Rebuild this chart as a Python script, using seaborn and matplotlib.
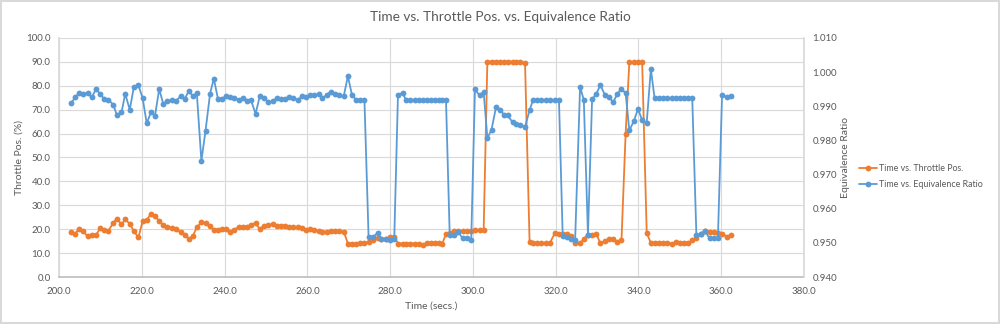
import matplotlib
matplotlib.use("Agg")
import matplotlib.pyplot as plt
import seaborn as sns
import pandas as pd
from matplotlib.lines import Line2D

time_s = [202.9, 203.9, 204.8, 205.7, 206.9, 207.9, 209.0, 209.9, 210.9, 211.9,
          213.1, 214.0, 215.1, 216.0, 217.1, 218.1, 219.2, 220.2, 221.2, 222.2,
          223.2, 224.2, 225.2, 226.1, 227.2, 228.2, 229.4, 230.4, 231.4, 232.3,
          233.3, 234.4, 235.4, 236.5, 237.4, 238.4, 239.4, 240.4, 241.4, 242.3,
          243.4, 244.4, 245.4, 246.4, 247.5, 248.5, 249.5, 250.6, 251.6, 252.7,
          253.6, 254.7, 255.6, 256.6, 257.7, 258.6, 259.6, 260.6, 261.6, 262.7,
          263.6, 264.7, 265.6, 266.7, 267.7, 268.8, 269.8, 270.8, 271.8, 272.8,
          273.8, 274.8, 275.9, 277.0, 277.9, 279.0, 279.9, 281.0, 281.9, 283.0,
          283.9, 284.9, 285.9, 286.9, 287.9, 288.9, 289.9, 290.9, 291.9, 292.6,
          293.5, 294.4, 295.5, 296.5, 297.5, 298.5, 299.6, 300.5, 301.6, 302.6,
          303.5, 304.5, 305.6, 306.6, 307.5, 308.4, 309.6, 310.5, 311.5, 312.6,
          313.7, 314.5, 315.5, 316.5, 317.6, 318.6, 319.8, 320.8, 321.7, 322.7,
          323.7, 324.7, 325.9, 326.8, 327.8, 328.8, 329.8, 330.8, 331.9, 332.9,
          333.9, 334.9, 335.9, 336.9, 337.8, 338.9, 339.9, 340.9, 342.0, 343.0,
          343.9, 345.0, 346.0, 347.0, 348.0, 349.0, 350.0, 351.0, 352.0, 353.0,
          354.0, 355.2, 356.1, 357.2, 358.2, 359.2, 360.2, 361.4, 362.4]

throttle_pos = [18.7, 18.2, 20.1, 19.4, 17.0, 17.6, 17.6, 20.4, 19.7, 19.2,
                22.7, 24.4, 22.0, 24.1, 22.3, 19.1, 16.6, 23.4, 23.8, 26.5,
                25.5, 23.4, 21.6, 21.1, 20.6, 20.2, 18.7, 17.6, 16.0, 17.0,
                20.8, 22.9, 22.6, 21.5, 19.8, 19.8, 19.9, 20.2, 19.0, 19.8,
                20.9, 20.9, 21.1, 21.9, 22.6, 19.9, 21.5, 21.8, 22.0, 21.5,
                21.5, 21.3, 20.8, 21.1, 20.8, 20.5, 19.8, 20.1, 19.8, 19.1,
                19.0, 19.0, 19.4, 19.4, 19.1, 19.0, 14.0, 14.0, 14.0, 14.1,
                14.2, 14.6, 15.6, 16.5, 16.0, 15.8, 16.6, 16.9, 14.0, 14.0,
                14.0, 14.0, 14.0, 13.9, 13.5, 14.3, 14.2, 14.2, 14.3, 14.0,
                18.0, 18.4, 19.1, 19.1, 19.1, 19.4, 19.4, 19.5, 19.5, 19.5,
                90.1, 90.1, 90.1, 90.0, 90.0, 90.1, 90.1, 90.1, 90.1, 89.5,
                14.5, 14.2, 14.2, 14.2, 14.2, 14.2, 18.4, 17.9, 18.0, 18.0,
                17.0, 14.1, 14.1, 16.0, 17.7, 17.6, 18.1, 14.1, 15.1, 15.9,
                15.9, 14.6, 15.3, 59.8, 89.8, 89.8, 89.8, 89.8, 18.4, 14.2,
                14.2, 14.2, 14.2, 14.2, 14.0, 14.5, 14.2, 14.2, 14.2, 15.3,
                16.2, 18.0, 19.4, 19.0, 18.7, 18.4, 18.0, 16.9, 17.6]

equivalence_ratio = [0.9908, 0.9926, 0.9938, 0.9937, 0.9938, 0.9926, 0.9951, 0.9936, 0.9922, 0.9919,
                     0.9905, 0.9873, 0.9882, 0.9936, 0.9890, 0.9957, 0.9961, 0.9924, 0.9850, 0.9882,
                     0.9872, 0.9950, 0.9907, 0.9915, 0.9917, 0.9915, 0.9929, 0.9922, 0.9946, 0.9929,
                     0.9938, 0.9740, 0.9828, 0.9937, 0.9981, 0.9922, 0.9922, 0.9930, 0.9927, 0.9924,
                     0.9919, 0.9924, 0.9915, 0.9917, 0.9878, 0.9929, 0.9924, 0.9912, 0.9914, 0.9925,
                     0.9922, 0.9922, 0.9927, 0.9925, 0.9917, 0.9929, 0.9927, 0.9932, 0.9932, 0.9935,
                     0.9924, 0.9933, 0.9943, 0.9937, 0.9932, 0.9930, 0.9988, 0.9932, 0.9919, 0.9917,
                     0.9917, 0.9517, 0.9518, 0.9529, 0.9511, 0.9511, 0.9509, 0.9511, 0.9934, 0.9939,
                     0.9917, 0.9918, 0.9918, 0.9918, 0.9918, 0.9918, 0.9918, 0.9918, 0.9918, 0.9919,
                     0.9919, 0.9523, 0.9523, 0.9532, 0.9513, 0.9513, 0.9509, 0.9949, 0.9932, 0.9942,
                     0.9807, 0.9831, 0.9898, 0.9890, 0.9875, 0.9873, 0.9853, 0.9849, 0.9845, 0.9840,
                     0.9888, 0.9918, 0.9918, 0.9918, 0.9918, 0.9918, 0.9918, 0.9918, 0.9520, 0.9517,
                     0.9512, 0.9508, 0.9957, 0.9918, 0.9524, 0.9920, 0.9936, 0.9962, 0.9933, 0.9926,
                     0.9912, 0.9936, 0.9951, 0.9938, 0.9829, 0.9857, 0.9892, 0.9859, 0.9852, 1.0009,
                     0.9923, 0.9923, 0.9923, 0.9923, 0.9923, 0.9923, 0.9923, 0.9923, 0.9923, 0.9923,
                     0.9523, 0.9526, 0.9534, 0.9513, 0.9513, 0.9513, 0.9932, 0.9927, 0.9930]

title = "Time vs. Throttle Pos. vs. Equivalence Ratio"
x_label = "Time (secs.)"
y_left_label = "Throttle Pos. (%)"
y_right_label = "Equivalence Ratio"
series_names = ["Time vs. Throttle Pos.", "Time vs. Equivalence Ratio"]

df = pd.DataFrame({"time": time_s, "throttle": throttle_pos, "eq": equivalence_ratio})

sns.set_theme(style="white")
plt.rcParams['font.family'] = ['Lato', 'DejaVu Sans']

ORANGE = "#ED7D31"
BLUE = "#5B9BD5"
TXT = "#595959"
GRID = "#d9d9d9"

fig = plt.figure(figsize=(10, 3.24), dpi=100, facecolor="white", edgecolor=GRID, linewidth=1.5)
ax1 = fig.add_axes([0.059, 0.145, 0.745, 0.738])
ax2 = ax1.twinx()

sns.lineplot(data=df, x="time", y="throttle", ax=ax1, color=ORANGE, marker="o",
             markersize=4.2, markeredgewidth=0, linewidth=1.3, sort=False, estimator=None)
sns.lineplot(data=df, x="time", y="eq", ax=ax2, color=BLUE, marker="o",
             markersize=4.2, markeredgewidth=0, linewidth=1.3, sort=False, estimator=None)

ax1.set_xlim(200, 380)
ax1.set_ylim(0, 100)
ax2.set_ylim(0.94, 1.01)
ax1.set_xticks([200 + 20 * i for i in range(10)])
ax1.set_yticks([10 * i for i in range(11)])
ax2.set_yticks([0.94 + 0.01 * i for i in range(8)])
ax1.xaxis.set_major_formatter(matplotlib.ticker.FormatStrFormatter("%.1f"))
ax1.yaxis.set_major_formatter(matplotlib.ticker.FormatStrFormatter("%.1f"))
ax2.yaxis.set_major_formatter(matplotlib.ticker.FormatStrFormatter("%.3f"))

ax1.grid(True, color=GRID, linewidth=0.8)
ax1.set_axisbelow(True)
ax2.grid(False)

for ax in (ax1, ax2):
    for s in ax.spines.values():
        s.set_visible(False)
ax1.spines["bottom"].set_visible(True)
ax1.spines["bottom"].set_color("#bfbfbf")
ax1.spines["left"].set_visible(True)
ax1.spines["left"].set_color(GRID)
ax2.spines["right"].set_visible(True)
ax2.spines["right"].set_color(GRID)

ax1.tick_params(axis="x", colors=TXT, labelsize=7, length=3, color="#bfbfbf", pad=4)
ax1.tick_params(axis="y", colors=TXT, labelsize=7, length=0, pad=6)
ax2.tick_params(axis="y", colors=TXT, labelsize=7, length=0, pad=6)

ax1.set_xlabel(x_label, color=TXT, fontsize=7.5, labelpad=4)
ax1.set_ylabel(y_left_label, color=TXT, fontsize=7.5, labelpad=2)
ax2.set_ylabel(y_right_label, color=TXT, fontsize=7.5, labelpad=3)

fig.suptitle(title, color=TXT, fontsize=9.8, y=0.965)

handles = [Line2D([0], [0], color=ORANGE, marker="o", markersize=4.2, markeredgewidth=0, linewidth=1.3),
           Line2D([0], [0], color=BLUE, marker="o", markersize=4.2, markeredgewidth=0, linewidth=1.3)]
leg = fig.legend(handles, series_names, loc="center left", bbox_to_anchor=(0.859, 0.455),
                 frameon=False, fontsize=6.4, handlelength=2.0, handletextpad=0.2, labelspacing=0.75,
                 labelcolor=TXT, borderpad=0, borderaxespad=0)

fig.savefig("out.png", dpi=100, facecolor="white", edgecolor=fig.get_edgecolor())
